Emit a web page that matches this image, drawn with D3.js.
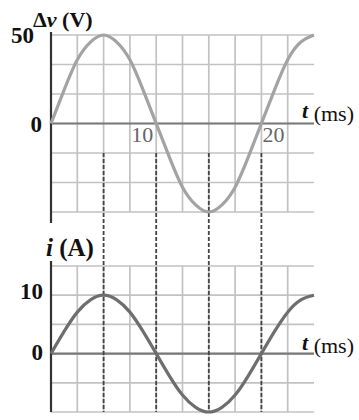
<!DOCTYPE html>
<html>
<head>
<meta charset="utf-8">
<script src="https://cdn.jsdelivr.net/npm/d3@7"></script>
<style>
  html, body { margin: 0; padding: 0; background: #fff; }
  svg { display: block; }
  text { font-family: "Liberation Serif", "Times New Roman", serif; fill: #111; }
</style>
</head>
<body>
<svg id="chart" width="359" height="420"></svg>
<script>
// Time samples (ms) and the two waveforms read at those times
const timeMs   = [0, 1.25, 2.5, 3.75, 5, 6.25, 7.5, 8.75, 10, 11.25, 12.5, 13.75, 15, 16.25, 17.5, 18.75, 20, 21.25, 22.5, 23.75, 25];
const voltageV = [0, 19, 36, 46, 50, 46, 36, 19, 0, -19, -36, -46, -50, -46, -36, -19, 0, 19, 36, 46, 50];
const currentA = [0, 3.8, 7.1, 9.2, 10, 9.2, 7.1, 3.8, 0, -3.8, -7.1, -9.2, -10, -9.2, -7.1, -3.8, 0, 3.8, 7.1, 9.2, 10];

// Tick labels and grid steps
const voltTicks   = [0, 50];
const ampTicks    = [0, 10];
const timeLabels  = [10, 20];
const markerTimes = [5, 10, 15, 20];
const timeGrid    = d3.range(0, 25, 2.5);
const voltGrid    = d3.range(-3, 4).map(k => k * 50 / 3);
const ampGrid     = d3.range(-10, 16, 5);

const svg = d3.select("#chart");

const x  = d3.scaleLinear().domain([0, 25]).range([51, 314]);
const yV = d3.scaleLinear().domain([-50, 50]).range([212, 35]);
const yI = d3.scaleLinear().domain([-10, 15]).range([412, 266]);

const gridColor = "#c2c2c2";

function drawPanel(y, hGrid, yLo, yHi) {
  const g = svg.append("g");
  g.selectAll("line.h").data(hGrid).join("line")
    .attr("x1", x(0)).attr("x2", x(25))
    .attr("y1", d => y(d)).attr("y2", d => y(d))
    .attr("stroke", gridColor).attr("stroke-width", 1.7);
  g.selectAll("line.v").data(timeGrid.slice(1)).join("line")
    .attr("x1", d => x(d)).attr("x2", d => x(d))
    .attr("y1", y(yLo)).attr("y2", y(yHi))
    .attr("stroke", gridColor).attr("stroke-width", 1.7);
  // zero line
  g.append("line")
    .attr("x1", x(0)).attr("x2", x(25))
    .attr("y1", y(0)).attr("y2", y(0))
    .attr("stroke", "#7a7a7a").attr("stroke-width", 2.2);
  return g;
}

drawPanel(yV, voltGrid, -50, 50);
drawPanel(yI, ampGrid, -10, 15);

// dashed markers at the quarter periods, running through both panels
svg.append("g").selectAll("line").data(markerTimes).join("line")
  .attr("x1", d => x(d)).attr("x2", d => x(d))
  .attr("y1", yV(-50 / 3)).attr("y2", yI(-10))
  .attr("stroke", "#444").attr("stroke-width", 1.8)
  .attr("stroke-dasharray", "4,2");

// vertical axes
svg.append("line").attr("x1", x(0)).attr("x2", x(0))
  .attr("y1", 32).attr("y2", 223)
  .attr("stroke", "#333").attr("stroke-width", 2.2);
svg.append("line").attr("x1", x(0)).attr("x2", x(0))
  .attr("y1", 261).attr("y2", yI(-10))
  .attr("stroke", "#333").attr("stroke-width", 2.2);

// waveforms
const vLine = d3.line().x((d, i) => x(timeMs[i])).y(d => yV(d)).curve(d3.curveNatural);
const iLine = d3.line().x((d, i) => x(timeMs[i])).y(d => yI(d)).curve(d3.curveNatural);

svg.append("path").datum(voltageV).attr("d", vLine)
  .attr("fill", "none").attr("stroke", "#a3a3a3").attr("stroke-width", 3.2);
svg.append("path").datum(currentA).attr("d", iLine)
  .attr("fill", "none").attr("stroke", "#6e6e6e").attr("stroke-width", 3.2);

// y tick labels
svg.append("g").selectAll("text").data(voltTicks).join("text")
  .attr("x", d => d === 0 ? 42 : 34)
  .attr("y", d => yV(d))
  .attr("dy", "0.35em")
  .attr("text-anchor", "end")
  .attr("font-size", 23).attr("font-weight", "bold")
  .text(d => d);

svg.append("g").selectAll("text").data(ampTicks).join("text")
  .attr("x", 43)
  .attr("y", d => yI(d) - (d === 0 ? 2 : 4))
  .attr("dy", "0.35em")
  .attr("text-anchor", "end")
  .attr("font-size", 23).attr("font-weight", "bold")
  .text(d => d);

// time labels along the voltage zero line
svg.append("g").selectAll("text").data(timeLabels).join("text")
  .attr("x", (d, i) => i === 0 ? x(d) - 3 : x(d) + 1)
  .attr("y", yV(0) + 18)
  .attr("text-anchor", (d, i) => i === 0 ? "end" : "start")
  .attr("font-size", 22)
  .style("fill", "#666")
  .text(d => d);

// axis titles
const vTitle = svg.append("text").attr("x", 33).attr("y", 27)
  .attr("font-size", 22).attr("font-weight", "bold");
vTitle.append("tspan").text("Δ");
vTitle.append("tspan").attr("font-style", "italic").text("v");
vTitle.append("tspan").text(" (V)");

const iTitle = svg.append("text").attr("x", 46).attr("y", 256)
  .attr("font-size", 25).attr("font-weight", "bold");
iTitle.append("tspan").attr("font-style", "italic").text("i");
iTitle.append("tspan").text(" (A)");

function timeTitle(yBase) {
  const t = svg.append("text").attr("x", 302).attr("y", yBase)
    .attr("font-size", 22).attr("font-weight", "bold");
  t.append("tspan").attr("font-style", "italic").attr("dy", -3).text("t");
  t.append("tspan").attr("dy", 3).attr("font-weight", "normal").text(" (ms)");
}
timeTitle(yV(0) - 3);
timeTitle(yI(0) - 1);
</script>
</body>
</html>
